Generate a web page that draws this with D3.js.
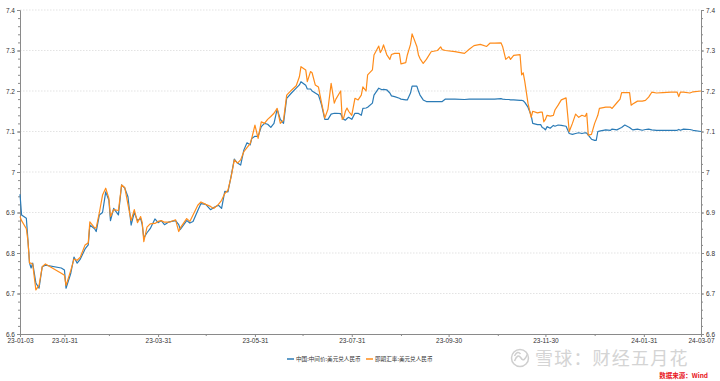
<!DOCTYPE html>
<html>
<head>
<meta charset="utf-8">
<script src="https://cdn.jsdelivr.net/npm/d3@7"></script>
<style>
  body { margin: 0; background: #fff; }
  svg { display: block; font-family: "Liberation Sans", Arial, sans-serif; }
  .axis text { fill: #333; font-size: 6.5px; }
  .axis path, .axis line { stroke: #8a8a8a; }
</style>
</head>
<body>
<div id="chart"></div>
<script>
// trading dates
const dates = [
  "2023-01-03","2023-01-04","2023-01-07","2023-01-08","2023-01-09","2023-01-10","2023-01-11","2023-01-13","2023-01-15","2023-01-17",
  "2023-01-19","2023-01-29","2023-01-31","2023-02-01","2023-02-04","2023-02-06","2023-02-08","2023-02-10","2023-02-13","2023-02-15",
  "2023-02-16","2023-02-19","2023-02-20","2023-02-22","2023-02-24","2023-02-26","2023-02-28","2023-03-01","2023-03-03","2023-03-06",
  "2023-03-08","2023-03-10","2023-03-12","2023-03-14","2023-03-16","2023-03-18","2023-03-20","2023-03-21","2023-03-22","2023-03-24",
  "2023-03-26","2023-03-29","2023-03-31","2023-04-02","2023-04-04","2023-04-07","2023-04-11","2023-04-13","2023-04-14","2023-04-18",
  "2023-04-20","2023-04-22","2023-04-25","2023-04-27","2023-04-30","2023-05-03","2023-05-05","2023-05-08","2023-05-10","2023-05-12",
  "2023-05-14","2023-05-16","2023-05-18","2023-05-20","2023-05-22","2023-05-24","2023-05-26","2023-05-28","2023-05-29","2023-05-31",
  "2023-06-02","2023-06-04","2023-06-06","2023-06-08","2023-06-10","2023-06-12","2023-06-14","2023-06-16","2023-06-18","2023-06-20",
  "2023-06-23","2023-06-26","2023-06-28","2023-06-29","2023-07-02","2023-07-03","2023-07-05","2023-07-06","2023-07-08","2023-07-10",
  "2023-07-11","2023-07-12","2023-07-14","2023-07-16","2023-07-18","2023-07-20","2023-07-21","2023-07-24","2023-07-25","2023-07-26",
  "2023-07-27","2023-07-28","2023-07-29","2023-07-31","2023-08-02","2023-08-04","2023-08-06","2023-08-07","2023-08-09","2023-08-10",
  "2023-08-13","2023-08-14","2023-08-17","2023-08-18","2023-08-19","2023-08-20","2023-08-22","2023-08-24","2023-08-25","2023-08-27",
  "2023-08-30","2023-08-31","2023-09-03","2023-09-04","2023-09-06","2023-09-07","2023-09-10","2023-09-11","2023-09-12","2023-09-14",
  "2023-09-16","2023-09-19","2023-09-23","2023-09-25","2023-09-26","2023-09-28","2023-10-04","2023-10-10","2023-10-13","2023-10-16",
  "2023-10-20","2023-10-24","2023-10-26","2023-10-29","2023-11-02","2023-11-03","2023-11-05","2023-11-07","2023-11-08","2023-11-10",
  "2023-11-14","2023-11-15","2023-11-16","2023-11-17","2023-11-19","2023-11-21","2023-11-22","2023-11-25","2023-11-27","2023-11-28",
  "2023-11-29","2023-11-30","2023-12-01","2023-12-03","2023-12-05","2023-12-06","2023-12-08","2023-12-10","2023-12-13","2023-12-15",
  "2023-12-17","2023-12-19","2023-12-21","2023-12-23","2023-12-25","2023-12-26","2023-12-27","2023-12-29","2023-12-31","2024-01-01",
  "2024-01-02","2024-01-03","2024-01-07","2024-01-10","2024-01-11","2024-01-14","2024-01-16","2024-01-17","2024-01-19","2024-01-22",
  "2024-01-23","2024-01-24","2024-01-27","2024-01-30","2024-02-01","2024-02-03","2024-02-05","2024-02-08","2024-02-12","2024-02-17",
  "2024-02-21","2024-02-22","2024-02-23","2024-02-25","2024-02-29","2024-03-02","2024-03-07"
]

// 中国:中间价:美元兑人民币
const midRate = [
  6.945,6.894,6.886,6.832,6.775,6.763,6.775,6.726,6.713,6.766,
  6.770,6.763,6.758,6.713,6.750,6.790,6.775,6.785,6.810,6.820,
  6.869,6.860,6.853,6.894,6.900,6.951,6.930,6.880,6.910,6.894,
  6.968,6.960,6.939,6.869,6.900,6.880,6.885,6.870,6.837,6.850,
  6.860,6.884,6.875,6.880,6.870,6.877,6.880,6.870,6.858,6.880,
  6.874,6.878,6.905,6.922,6.920,6.907,6.912,6.918,6.910,6.952,
  6.951,6.990,7.032,7.022,7.017,7.054,7.072,7.067,7.083,7.088,
  7.088,7.112,7.120,7.118,7.110,7.120,7.155,7.130,7.120,7.182,
  7.195,7.207,7.215,7.223,7.214,7.205,7.205,7.200,7.195,7.190,
  7.178,7.165,7.130,7.130,7.143,7.145,7.145,7.144,7.135,7.130,
  7.128,7.132,7.135,7.130,7.145,7.145,7.140,7.157,7.158,7.160,
  7.170,7.190,7.207,7.205,7.203,7.204,7.203,7.195,7.188,7.186,
  7.182,7.180,7.178,7.178,7.195,7.212,7.212,7.200,7.190,7.178,
  7.174,7.174,7.174,7.174,7.174,7.180,7.180,7.179,7.180,7.180,
  7.180,7.180,7.180,7.180,7.181,7.180,7.179,7.179,7.178,7.178,
  7.177,7.177,7.176,7.172,7.160,7.140,7.120,7.117,7.117,7.110,
  7.108,7.104,7.112,7.108,7.115,7.113,7.116,7.115,7.113,7.095,
  7.093,7.095,7.097,7.095,7.097,7.096,7.091,7.081,7.078,7.078,
  7.100,7.101,7.104,7.103,7.106,7.104,7.108,7.110,7.116,7.110,
  7.107,7.104,7.106,7.103,7.105,7.106,7.104,7.103,7.103,7.103,
  7.103,7.105,7.103,7.106,7.105,7.103,7.100
]

// 即期汇率:美元兑人民币
const spotRate = [
  6.890,6.880,6.860,6.830,6.775,6.775,6.772,6.709,6.720,6.766,
  6.773,6.750,6.745,6.720,6.757,6.785,6.782,6.790,6.820,6.825,
  6.877,6.862,6.862,6.900,6.943,6.960,6.935,6.890,6.907,6.905,
  6.968,6.962,6.920,6.880,6.907,6.875,6.890,6.875,6.828,6.864,
  6.872,6.873,6.878,6.880,6.876,6.876,6.882,6.853,6.862,6.885,
  6.878,6.894,6.918,6.926,6.920,6.915,6.910,6.920,6.930,6.947,
  6.955,6.988,7.030,7.022,7.030,7.050,7.060,7.070,7.083,7.116,
  7.083,7.124,7.120,7.130,7.137,7.145,7.157,7.120,7.128,7.190,
  7.202,7.213,7.235,7.260,7.252,7.223,7.248,7.245,7.215,7.210,
  7.190,7.170,7.133,7.155,7.219,7.170,7.180,7.200,7.130,7.135,
  7.150,7.158,7.150,7.140,7.182,7.178,7.190,7.210,7.200,7.240,
  7.252,7.289,7.311,7.295,7.302,7.314,7.290,7.278,7.290,7.293,
  7.293,7.267,7.270,7.289,7.315,7.341,7.310,7.289,7.280,7.268,
  7.278,7.297,7.300,7.309,7.302,7.300,7.297,7.293,7.303,7.312,
  7.315,7.310,7.318,7.318,7.319,7.310,7.278,7.285,7.278,7.288,
  7.290,7.240,7.245,7.223,7.170,7.135,7.150,7.146,7.148,7.148,
  7.124,7.130,7.140,7.138,7.140,7.153,7.165,7.178,7.183,7.100,
  7.120,7.143,7.135,7.140,7.137,7.145,7.091,7.093,7.120,7.130,
  7.140,7.157,7.160,7.160,7.157,7.171,7.180,7.196,7.196,7.196,
  7.165,7.168,7.175,7.175,7.177,7.185,7.197,7.195,7.196,7.197,
  7.197,7.186,7.197,7.197,7.195,7.198,7.200
]

const yTicks = [6.6, 6.7, 6.8, 6.9, 7.0, 7.1, 7.2, 7.3, 7.4]
const xTickLabels = ["2023-01-03","2023-01-31","2023-03-31","2023-05-31","2023-07-31","2023-09-30","2023-11-30","2024-01-31","2024-03-07"]
const xMinorTicks = ["2023-02-28","2023-04-30","2023-06-30","2023-08-31","2023-10-31","2023-12-31"]
const seriesNames = ["中国:中间价:美元兑人民币", "即期汇率:美元兑人民币"]
const seriesColors = ["#2b7bb6", "#ff8c1a"]

const WIDTH = 720
const HEIGHT = 381
const margin = { top: 10, right: 19, bottom: 47, left: 20 }

const parse = d3.timeParse("%Y-%m-%d")
const fmtTick = d3.timeFormat("%y-%m-%d")

const svg = d3.select("#chart")
  .append("svg")
    .attr("width", WIDTH)
    .attr("height", HEIGHT)

const x = d3.scaleTime()
  .domain([parse(dates[0]), parse(dates[dates.length - 1])])
  .range([margin.left, WIDTH - margin.right])

const y = d3.scaleLinear()
  .domain([6.6, 7.4])
  .range([HEIGHT - margin.bottom, margin.top])

const yFormat = (d) => (Math.abs(d - 7) < 1e-9 ? "7" : d3.format(".1f")(d))
const minorY = d3.range(6.6, 7.4001, 0.02)

// watermark goes underneath everything else
const wm = svg.append("g").attr("fill", "none").attr("stroke", "#cfcfcf")
wm.append("circle")
  .attr("cx", 520)
  .attr("cy", 358)
  .attr("r", 8.5)
  .attr("stroke-width", 1.5)
wm.append("path")
  .attr("d", "M514.5,361 q3,-8 6.5,-3 q3,5 6.5,-4 M514.5,356 q3,-6 6,-2")
  .attr("stroke-width", 1.5)

svg.append("text")
  .attr("x", 535)
  .attr("y", 365)
  .attr("font-family", "'Noto Sans CJK SC', sans-serif")
  .attr("font-size", 18)
  .attr("fill", "#d4d4d4")
  .attr("letter-spacing", 1.2)
  .text("雪球：财经五月花")

// dotted grid
svg.append("g")
  .selectAll("line")
  .data(yTicks.slice(1))
  .join("line")
    .attr("x1", margin.left)
    .attr("x2", WIDTH - margin.right)
    .attr("y1", (d) => y(d))
    .attr("y2", (d) => y(d))
    .attr("stroke", "#dcdcdc")
    .attr("stroke-width", 0.8)
    .attr("stroke-dasharray", "1.5,1.5")

// left axis
const leftAxis = svg.append("g")
  .attr("class", "axis")
  .attr("transform", `translate(${margin.left},0)`)
  .call(d3.axisLeft(y).tickValues(yTicks).tickFormat(yFormat).tickSize(3).tickPadding(2))
leftAxis.append("g")
  .call(d3.axisLeft(y).tickValues(minorY).tickFormat("").tickSize(2))
  .call((g) => g.select(".domain").remove())

// right axis
const rightAxis = svg.append("g")
  .attr("class", "axis")
  .attr("transform", `translate(${WIDTH - margin.right},0)`)
  .call(d3.axisRight(y).tickValues(yTicks).tickFormat(yFormat).tickSize(3).tickPadding(2))
rightAxis.append("g")
  .call(d3.axisRight(y).tickValues(minorY).tickFormat("").tickSize(2))
  .call((g) => g.select(".domain").remove())

// bottom axis
const bottomAxis = svg.append("g")
  .attr("class", "axis")
  .attr("transform", `translate(0,${HEIGHT - margin.bottom})`)
  .call(d3.axisBottom(x).tickValues(xTickLabels.map(parse)).tickFormat(fmtTick).tickSize(3).tickPadding(1.5))
bottomAxis.append("g")
  .call(d3.axisBottom(x).tickValues(xMinorTicks.map(parse)).tickFormat("").tickSize(2))
  .call((g) => g.select(".domain").remove())

// lines
const rows = dates.map((d, i) => ({ date: parse(d), mid: midRate[i], spot: spotRate[i] }))

const lineFor = (key) => d3.line()
  .x((d) => x(d.date))
  .y((d) => y(d[key]))

svg.append("path")
  .datum(rows)
  .attr("fill", "none")
  .attr("stroke", seriesColors[0])
  .attr("stroke-width", 1.2)
  .attr("stroke-linejoin", "round")
  .attr("d", lineFor("mid"))

svg.append("path")
  .datum(rows)
  .attr("fill", "none")
  .attr("stroke", seriesColors[1])
  .attr("stroke-width", 1.2)
  .attr("stroke-linejoin", "round")
  .attr("d", lineFor("spot"))

// legend
const legendX = [287, 366]
const legend = svg.append("g")
  .selectAll("g")
  .data(seriesNames)
  .join("g")
    .attr("transform", (d, i) => `translate(${legendX[i]},359)`)

legend.append("line")
  .attr("x1", 0)
  .attr("x2", 7)
  .attr("stroke", (d, i) => seriesColors[i])
  .attr("stroke-width", 1.5)

legend.append("text")
  .attr("x", 9)
  .attr("dy", "0.35em")
  .attr("font-family", "'Noto Sans CJK SC', sans-serif")
  .attr("font-size", 5.6)
  .attr("fill", "#333")
  .text((d) => d)

svg.append("text")
  .attr("x", 708)
  .attr("y", 377.5)
  .attr("text-anchor", "end")
  .attr("font-family", "'Noto Sans CJK SC', sans-serif")
  .attr("font-size", 6.5)
  .attr("font-weight", "bold")
  .attr("fill", "#e8141b")
  .text("数据来源：Wind")
</script>
</body>
</html>
